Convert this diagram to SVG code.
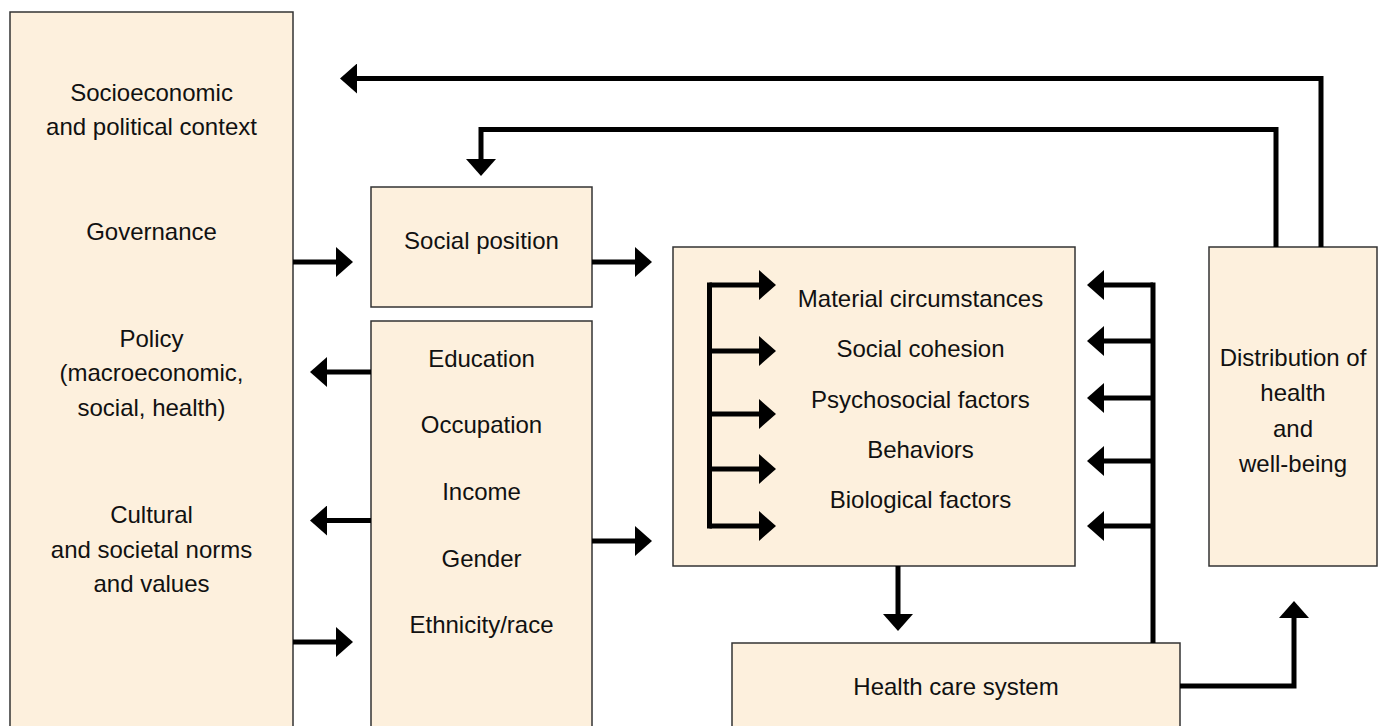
<svg xmlns="http://www.w3.org/2000/svg" width="1382" height="726" viewBox="0 0 1382 726">
<style>
.box{fill:#FDF0DD;stroke:#333;stroke-width:1.5}
.t{font-family:"Liberation Sans",Arial,sans-serif;font-size:24px;fill:#111;text-anchor:middle}
.c{fill:none;stroke:#000;stroke-width:5;stroke-linejoin:miter}
.a{marker-end:url(#ah)}
</style>
<defs>
<marker id="ah" viewBox="0 0 17 30" refX="7" refY="15" markerWidth="17" markerHeight="30" markerUnits="userSpaceOnUse" orient="auto">
<path d="M0,0 L17,15 L0,30 z" fill="#000"/>
</marker>
</defs>
<rect width="1382" height="726" fill="#fff"/>
<g id="context">
<rect class="box" x="10" y="12" width="283" height="730"/>
<text class="t" x="151.5" y="100.5">Socioeconomic</text>
<text class="t" x="151.5" y="135">and political context</text>
<text class="t" x="151.5" y="240">Governance</text>
<text class="t" x="151.5" y="347">Policy</text>
<text class="t" x="151.5" y="381">(macroeconomic,</text>
<text class="t" x="151.5" y="416">social, health)</text>
<text class="t" x="151.5" y="523">Cultural</text>
<text class="t" x="151.5" y="558">and societal norms</text>
<text class="t" x="151.5" y="592">and values</text>
</g>
<g id="social-position">
<rect class="box" x="371" y="187" width="221" height="120"/>
<text class="t" x="481.5" y="249">Social position</text>
</g>
<g id="stratifiers">
<rect class="box" x="371" y="321" width="221" height="420"/>
<text class="t" x="481.5" y="367">Education</text>
<text class="t" x="481.5" y="433">Occupation</text>
<text class="t" x="481.5" y="500">Income</text>
<text class="t" x="481.5" y="567">Gender</text>
<text class="t" x="481.5" y="633">Ethnicity/race</text>
</g>
<g id="intermediary">
<rect class="box" x="673" y="247" width="402" height="319"/>
<text class="t" x="920.5" y="307">Material circumstances</text>
<text class="t" x="920.5" y="357">Social cohesion</text>
<text class="t" x="920.5" y="408">Psychosocial factors</text>
<text class="t" x="920.5" y="458">Behaviors</text>
<text class="t" x="920.5" y="508">Biological factors</text>
</g>
<g id="distribution">
<rect class="box" x="1209" y="247" width="168" height="319"/>
<text class="t" x="1293" y="366">Distribution of</text>
<text class="t" x="1293" y="401">health</text>
<text class="t" x="1293" y="437">and</text>
<text class="t" x="1293" y="472">well-being</text>
</g>
<g id="health-care">
<rect class="box" x="732" y="643" width="448" height="100"/>
<text class="t" x="956" y="695">Health care system</text>
</g>
<g id="connectors">
<path class="c a" d="M293,262 H343"/>
<path class="c a" d="M592,262 H642"/>
<path class="c a" d="M371,372 H320"/>
<path class="c a" d="M371,520.5 H320"/>
<path class="c a" d="M293,642 H343"/>
<path class="c a" d="M592,541 H642"/>
<path class="c" d="M709.5,282.5 V528.5"/>
<path class="c a" d="M709.5,285 H766"/>
<path class="c a" d="M709.5,351 H766"/>
<path class="c a" d="M709.5,414 H766"/>
<path class="c a" d="M709.5,469 H766"/>
<path class="c a" d="M709.5,526 H766"/>
<path class="c" d="M1153,282.5 V643"/>
<path class="c a" d="M1153,285 H1097"/>
<path class="c a" d="M1153,341 H1097"/>
<path class="c a" d="M1153,398 H1097"/>
<path class="c a" d="M1153,461 H1097"/>
<path class="c a" d="M1153,526 H1097"/>
<path class="c a" d="M898,566 V621"/>
<path class="c a" d="M1180,686 H1294 V611"/>
<path class="c a" d="M1321,247 V78.5 H350"/>
<path class="c a" d="M1276,247 V129.5 H481 V166"/>
</g>
</svg>
